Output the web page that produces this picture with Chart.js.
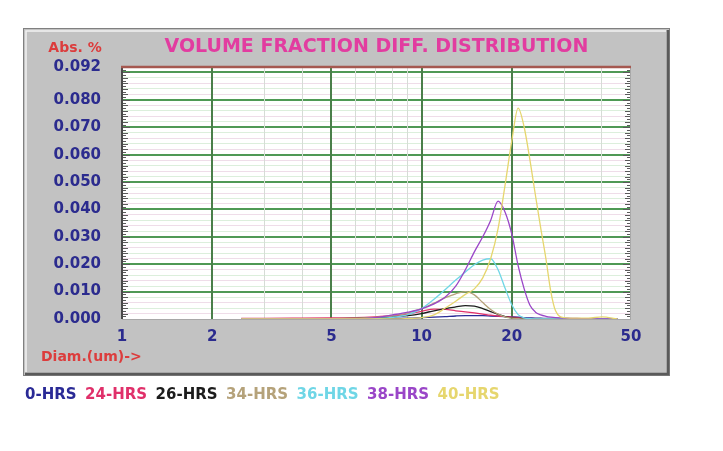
<!DOCTYPE html>
<html>
<head>
<meta charset="utf-8">
<script src="https://cdn.jsdelivr.net/npm/chart.js@4.4.1/dist/chart.umd.min.js"></script>
<style>
html,body{margin:0;padding:0;background:#ffffff;}
#wrap{position:relative;width:723px;height:451px;}
canvas{display:block;}
</style>
</head>
<body>
<div id="wrap"><canvas id="c" width="723" height="451"></canvas></div>
<script>
// ---- data ----
const chartTitle = 'VOLUME FRACTION DIFF. DISTRIBUTION';
const yUnitLabel = 'Abs. %';
const xAxisLabel = 'Diam.(um)->';
const diameters = [2.5, 3, 4, 5, 6, 7, 8, 9, 10, 11, 12, 13, 14, 15, 16, 17, 18, 19, 20, 21, 22, 23, 24, 25, 26, 27, 28, 30, 33, 36, 40, 45];
const seriesNames = ['0-HRS', '24-HRS', '26-HRS', '34-HRS', '36-HRS', '38-HRS', '40-HRS'];
const seriesColors = ['#2a2a96', '#e0306a', '#1c1c1c', '#b5a27a', '#6fd6e6', '#9a46c8', '#e6d66e'];
const hrs0  = [0, 0, 0, 0, 0, 0.0001, 0.0002, 0.0003, 0.0005, 0.0007, 0.0009, 0.0011, 0.0012, 0.0012, 0.0012, 0.0011, 0.0010, 0.0009, 0.0008, 0.0007, 0.0005, 0.0004, 0.0003, 0.0003, 0.0002, 0.0002, 0.0002, 0.0002, 0.0001, 0.0001, 0.0001, 0];
const hrs24 = [0.0002, 0.0002, 0.0003, 0.0004, 0.0005, 0.0008, 0.0012, 0.0018, 0.0028, 0.0036, 0.0035, 0.0030, 0.0026, 0.0022, 0.0018, 0.0014, 0.0011, 0.0009, 0.0007, 0.0004, 0.0002, 0.0001, 0, 0, 0, 0, 0, 0, 0, 0, 0, 0];
const hrs26 = [0, 0, 0, 0.0001, 0.0002, 0.0004, 0.0007, 0.0012, 0.0020, 0.0030, 0.0038, 0.0044, 0.0049, 0.0047, 0.0038, 0.0027, 0.0017, 0.0009, 0.0004, 0.0002, 0.0001, 0, 0, 0, 0, 0, 0, 0, 0, 0, 0, 0];
const hrs34 = [0, 0, 0, 0.0001, 0.0003, 0.0006, 0.0012, 0.0022, 0.0038, 0.0058, 0.0078, 0.0092, 0.0100, 0.0088, 0.0060, 0.0035, 0.0018, 0.0008, 0.0003, 0.0001, 0, 0, 0, 0, 0, 0, 0, 0, 0, 0, 0, 0];
const hrs36 = [0, 0, 0, 0, 0, 0.0002, 0.0006, 0.0016, 0.0038, 0.0072, 0.0108, 0.0142, 0.0172, 0.0198, 0.0215, 0.0220, 0.0180, 0.0112, 0.0052, 0.0016, 0.0004, 0.0001, 0, 0, 0, 0, 0, 0, 0, 0, 0, 0];
const hrs38 = [0, 0, 0, 0, 0, 0.0005, 0.0015, 0.0025, 0.0037, 0.0055, 0.0080, 0.0120, 0.0180, 0.0245, 0.0300, 0.0360, 0.0430, 0.0390, 0.0310, 0.0195, 0.0110, 0.0050, 0.0025, 0.0015, 0.0010, 0.0007, 0.0005, 0.0003, 0.0002, 0.0001, 0, 0];
const hrs40 = [0, 0, 0, 0, 0, 0, 0, 0.0002, 0.0005, 0.0015, 0.0040, 0.0065, 0.0090, 0.0110, 0.0150, 0.0220, 0.0330, 0.0490, 0.0650, 0.0770, 0.0700, 0.0580, 0.0450, 0.0330, 0.0220, 0.0100, 0.0030, 0.0005, 0.0003, 0.0003, 0.0008, 0];
const seriesValues = [hrs0, hrs24, hrs26, hrs34, hrs36, hrs38, hrs40];
const xTickLabels = [1, 2, 5, 10, 20, 50];
const xGridValues = [1, 2, 3, 4, 5, 6, 7, 8, 9, 10, 20, 30, 40, 50];
const xMajorGrid = [2, 5, 10, 20];
const yTickLabels = ['0.000', '0.010', '0.020', '0.030', '0.040', '0.050', '0.060', '0.070', '0.080', '0.092'];
const yMin = 0, yMax = 0.092, yTickStep = 0.001;

// ---- styles ----
const FONT = '"DejaVu Sans", Verdana, sans-serif';
const NAVY = '#2b2b8e';
const RED = '#dc3c3c';

const datasets = seriesNames.map((name, i) => ({
  label: name,
  data: diameters.map((d, k) => ({x: d, y: seriesValues[i][k]})),
  borderColor: seriesColors[i],
  backgroundColor: seriesColors[i],
  borderWidth: 1.3,
  pointRadius: 0,
  showLine: true,
  fill: false,
  cubicInterpolationMode: 'monotone',
  order: seriesNames.length - i
}));

const thousandths = v => Math.round(v * 1000);

const panelPlugin = {
  id: 'panel',
  beforeDraw(chart) {
    const {ctx, chartArea: a} = chart;
    ctx.save();
    ctx.fillStyle = '#ffffff';
    ctx.fillRect(0, 0, chart.width, chart.height);
    const L = a.left - 99, T = a.top - 39, R = a.right + 39, B = a.bottom + 57;
    ctx.fillStyle = '#c2c2c2';
    ctx.fillRect(L, T, R - L, B - T);
    ctx.strokeStyle = '#808080'; ctx.lineWidth = 1;
    ctx.strokeRect(L + 0.5, T + 0.5, R - L - 1, B - T - 1);
    ctx.strokeStyle = '#f2f2f2'; ctx.lineWidth = 1.5;
    ctx.beginPath(); ctx.moveTo(L + 3, B - 4); ctx.lineTo(L + 3, T + 3); ctx.lineTo(R - 4, T + 3); ctx.stroke();
    ctx.strokeStyle = '#5a5a5a'; ctx.lineWidth = 2.5;
    ctx.beginPath(); ctx.moveTo(R - 2, T + 2); ctx.lineTo(R - 2, B - 2); ctx.lineTo(L + 2, B - 2); ctx.stroke();
    ctx.fillStyle = '#ffffff';
    ctx.fillRect(a.left, a.top, a.right - a.left, a.bottom - a.top);
    ctx.font = 'bold 14px ' + FONT;
    ctx.fillStyle = RED;
    ctx.textBaseline = 'middle';
    ctx.textAlign = 'center';
    ctx.fillText(yUnitLabel, a.left - 47, a.top - 19);
    ctx.textAlign = 'left';
    ctx.fillText(xAxisLabel, a.left - 81, a.bottom + 38);
    ctx.restore();
  },
  beforeDatasetsDraw(chart) {
    const {ctx, chartArea: a} = chart;
    const ys = chart.scales.y;
    ctx.save();
    ctx.strokeStyle = '#5a5a5a'; ctx.lineWidth = 1;
    ys.ticks.forEach(t => {
      const p = Math.round(ys.getPixelForValue(t.value)) + 0.5;
      const len = thousandths(t.value) % 10 === 0 ? 8 : (thousandths(t.value) % 2 === 0 ? 6 : 4);
      ctx.beginPath();
      ctx.moveTo(a.left, p); ctx.lineTo(a.left + len, p);
      ctx.moveTo(a.right - len, p); ctx.lineTo(a.right, p);
      ctx.stroke();
    });
    // frame
    ctx.lineWidth = 1; ctx.strokeStyle = '#a8a8a8';
    ctx.beginPath(); ctx.moveTo(a.right - 0.5, a.top); ctx.lineTo(a.right - 0.5, a.bottom); ctx.stroke();
    ctx.beginPath(); ctx.moveTo(a.left, a.bottom + 0.5); ctx.lineTo(a.right, a.bottom + 0.5); ctx.stroke();
    ctx.lineWidth = 2; ctx.strokeStyle = '#4a4a4a';
    ctx.beginPath(); ctx.moveTo(a.left, a.top); ctx.lineTo(a.left, a.bottom); ctx.stroke();
    ctx.lineWidth = 2.5; ctx.strokeStyle = '#a55850';
    ctx.beginPath(); ctx.moveTo(a.left - 1, a.top); ctx.lineTo(a.right, a.top); ctx.stroke();
    ctx.restore();
  }
};

Chart.defaults.font.family = FONT;

new Chart(document.getElementById('c'), {
  type: 'scatter',
  data: {datasets},
  options: {
    responsive: false,
    animation: false,
    devicePixelRatio: 1,
    layout: {padding: {left: 16.5, right: 92, top: 0, bottom: 38.5}},
    plugins: {
      title: {
        display: true,
        text: chartTitle,
        color: '#e23ca0',
        fullSize: false,
        font: {size: 19, weight: 'bold', family: FONT},
        padding: {top: 35.6, bottom: 8.6}
      },
      legend: {
        display: true,
        position: 'bottom',
        align: 'start',
        labels: {
          boxWidth: -7.5,
          boxHeight: 15,
          padding: 8.5,
          font: {size: 15, weight: 'bold', family: FONT},
          generateLabels(chart) {
            return chart.data.datasets.map((ds, i) => ({
              text: ds.label,
              fontColor: seriesColors[i],
              fillStyle: 'rgba(0,0,0,0)',
              strokeStyle: 'rgba(0,0,0,0)',
              lineWidth: 0,
              hidden: false,
              datasetIndex: i
            }));
          }
        }
      },
      tooltip: {enabled: false}
    },
    scales: {
      y: {
        type: 'linear',
        min: yMin,
        max: yMax,
        afterBuildTicks(scale) {
          const t = [];
          for (let k = 0; k <= Math.round((yMax - yMin) / yTickStep); k++) t.push({value: +(yMin + k * yTickStep).toFixed(3)});
          scale.ticks = t;
        },
        afterFit(scale) { scale.width = 105.5; },
        border: {display: false},
        grid: {
          drawTicks: false,
          lineWidth(ctx) {
            const v = ctx.tick ? thousandths(ctx.tick.value) : -1;
            return v % 10 === 0 ? 2 : 1;
          },
          color(ctx) {
            const v = ctx.tick ? thousandths(ctx.tick.value) : -1;
            if (v <= 0 || v >= 92) return 'rgba(0,0,0,0)';
            if (v % 10 === 0) return '#4f9955';
            if (v % 4 === 0) return '#dcefdc';
            if (v % 2 === 0) return '#efdde9';
            return 'rgba(0,0,0,0)';
          }
        },
        ticks: {
          autoSkip: false,
          padding: 21,
          color: NAVY,
          font: {size: 15, weight: 'bold', family: FONT},
          callback(v) {
            const s = Number(v).toFixed(3);
            return yTickLabels.includes(s) ? s : '';
          }
        }
      },
      x: {
        type: 'logarithmic',
        min: 1,
        max: 50,
        afterBuildTicks(scale) { scale.ticks = xGridValues.map(v => ({value: v})); },
        afterFit(scale) { scale.height = 60; },
        border: {display: false},
        grid: {
          drawTicks: false,
          lineWidth(ctx) {
            const v = ctx.tick ? ctx.tick.value : null;
            return xMajorGrid.includes(v) ? 2 : 1;
          },
          color(ctx) {
            const v = ctx.tick ? ctx.tick.value : null;
            if (v === 1 || v === 50) return 'rgba(0,0,0,0)';
            return xMajorGrid.includes(v) ? '#4a7f4a' : '#d6dcd6';
          }
        },
        ticks: {
          autoSkip: false,
          maxRotation: 0,
          minRotation: 0,
          padding: 9,
          color: NAVY,
          font: {size: 15, weight: 'bold', family: FONT},
          callback(v) { return xTickLabels.includes(v) ? String(v) : ''; }
        }
      }
    }
  },
  plugins: [panelPlugin]
});
</script>
</body>
</html>
